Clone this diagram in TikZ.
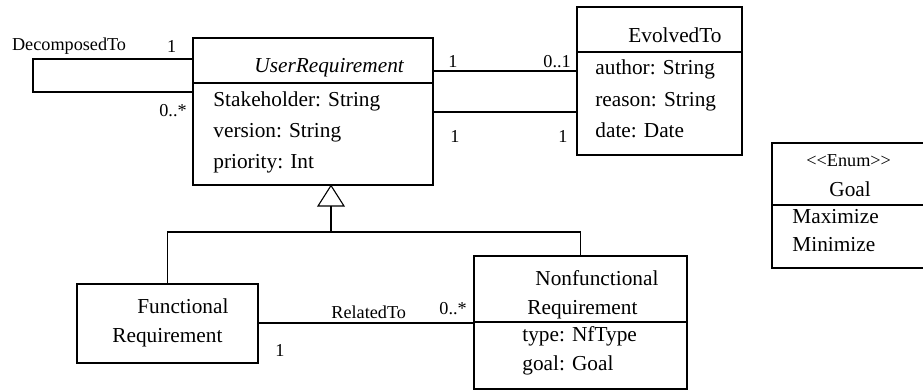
\documentclass[tikz,border=0pt]{standalone}
\usepackage{fontspec}
\setmainfont{Liberation Serif}
\usetikzlibrary{fit}
\begin{document}
\begin{tikzpicture}[x=0.5pt,y=-0.5pt,
  box/.style={draw, line width=0.55pt, inner sep=0pt},
  ln/.style={line width=0.55pt},
  txt/.style={anchor=base west, inner sep=0pt, font=\fontsize{10.65pt}{12pt}\selectfont},
  lbl/.style={anchor=base west, inner sep=0pt, font=\fontsize{9.1pt}{11pt}\selectfont}]
\useasboundingbox (0,0) rectangle (923,390);
\clip (0,0) rectangle (923,390);

% classes
\node[box, fit={(193,38) (433,185)}] (ur) {};
\node[box, fit={(577,7) (742,155)}] (ev) {};
\node[box, fit={(772,143) (926,268)}] (goal) {};
\node[box, fit={(77,284) (258,363)}] (fr) {};
\node[box, fit={(474,256) (687,389)}] (nf) {};

% compartment dividers
\draw[ln] (ur.west |- 0,83) -- (ur.east |- 0,83);
\draw[ln] (ev.west |- 0,52) -- (ev.east |- 0,52);
\draw[ln] (goal.west |- 0,205) -- (goal.east |- 0,205);
\draw[ln] (nf.west |- 0,322) -- (nf.east |- 0,322);

% UserRequirement texts
\node[txt] (urt) at (254,72.7) {\itshape UserRequirement};
\node[txt] (ura1) at (213,106.7) {Stakeholder: String};
\node[txt] (ura2) at (213,137.7) {version: String};
\node[txt] (ura3) at (213,169) {priority: Int};

% EvolvedTo texts
\node[txt] (evt) at (628,42.7) {EvolvedTo};
\node[txt] (eva1) at (595,75) {author: String};
\node[txt] (eva2) at (595,106.7) {reason: String};
\node[txt] (eva3) at (595,137.3) {date: Date};

% Goal texts
\node[lbl] (gst) at (806,166.7) {<\kern0pt<Enum>\kern0pt>};
\node[txt] (gt) at (829,196.7) {Goal};
\node[txt] (g1) at (792,224) {Maximize};
\node[txt] (g2) at (792,251.7) {Minimize};

% Functional texts
\node[txt] (frt1) at (137,313.3) {Functional};
\node[txt] (frt2) at (112,342.7) {Requirement};

% Nonfunctional texts
\node[txt] (nft1) at (535,286) {Nonfunctional};
\node[txt] (nft2) at (527,315) {Requirement};
\node[txt] (nfa1) at (522,341.7) {type: NfType};
\node[txt] (nfa2) at (522,370.7) {goal: Goal};

% DecomposedTo self association
\draw[ln] (ur.west |- 0,59) -- (33,59) -- (33,92) -- (ur.west |- 0,92);
\node[lbl] (dl) at (11.7,51) {DecomposedTo};
\node[lbl] (dm1) at (166.7,53) {1};
\node[lbl] (dm2) at (159,117) {0..*};

% EvolvedTo associations
\draw[ln] (ur.east |- 0,71) -- (ev.west |- 0,71);
\draw[ln] (ur.east |- 0,112) -- (ev.west |- 0,112);
\node[lbl] (em1) at (448,68) {1};
\node[lbl] (em2) at (543,68) {0..1};
\node[lbl] (em3) at (450,142.7) {1};
\node[lbl] (em4) at (558,142.7) {1};

% Generalization
\coordinate (apex) at (ur.south -| 331,0);
\coordinate (tb) at (331,206);
\coordinate (jn) at (331,232);
\draw[ln, fill=white] (apex) -- (318,206) -- (344,206) -- cycle;
\draw[ln] (tb) -- (jn);
\draw[ln] (fr.north) -- (fr.north |- jn) -- (nf.north |- jn) -- (nf.north);

% RelatedTo
\draw[ln] (fr.east |- 0,323) -- (nf.west |- 0,323);
\node[lbl] (rl) at (331,318.3) {RelatedTo};
\node[lbl] (rm1) at (439,315) {0..*};
\node[lbl] (rm2) at (275,357) {1};
\end{tikzpicture}
\end{document}
